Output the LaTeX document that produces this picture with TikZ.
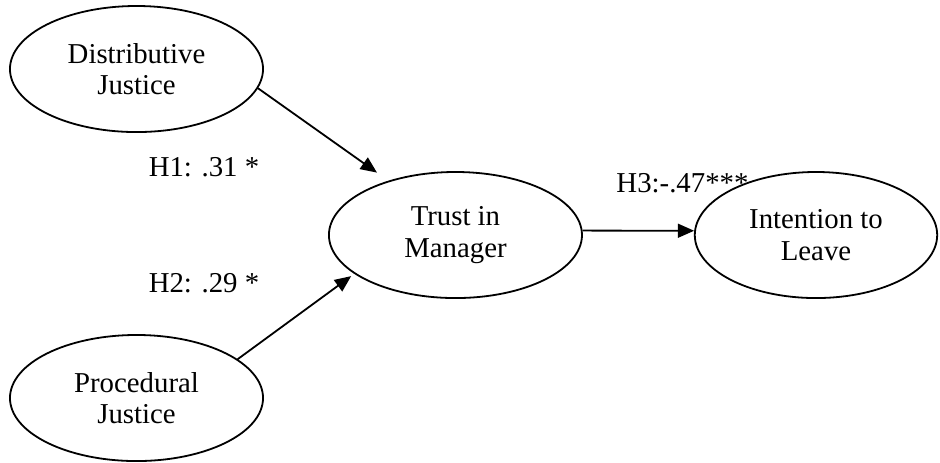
\documentclass[tikz,border=0pt]{standalone}
\usepackage{fontspec}
\setmainfont{Liberation Serif}
\usetikzlibrary{shapes.geometric,arrows.meta}
\tikzset{
  construct/.style={draw,ellipse,line width=0.75pt,inner sep=0pt,align=center,
    minimum width=3.706cm,minimum height=1.846cm},
  link/.style={line width=0.75pt,-{Triangle[length=6.8pt,width=5.8pt]}},
  coef/.style={inner sep=0pt}
}
\begin{document}
\begin{tikzpicture}[font=\fontsize{12}{13}\selectfont]
  \useasboundingbox (0,0) rectangle (13.766,6.766);
  %%%%%%%%%%%%%The constructs%%%%%%%%%%%%%%%%%%%%%%
  \node[construct] (dist) at (1.999,5.755) {Distributive\\Justice};
  \node[construct] (proc) at (1.999,0.937) {Procedural\\Justice};
  \node[construct] (trust) at (6.670,3.324) {Trust in\\Manager};
  \node[construct,minimum width=3.55cm] (intent) at (11.95,3.324) {Intention to\\Leave};

  %%%%%%%%%%%%%The paths%%%%%%%%%%%%%%%%%%%%%%
  \draw[link,shorten >=5.8pt] (dist.-9.5) -- (trust.141.7);
  \draw[link,shorten >=1.6pt] (proc.21.8) -- (trust.201.1);
  \draw[link] (trust.2) -- (intent.178);

  \node[coef,anchor=base] (h1) at (2.987,4.188) {H1: .31 *};
  \node[coef,anchor=base] (h2) at (2.987,2.475) {H2: .29 *};
  \node[coef,anchor=base west] (h3) at (9.021,3.954) {H3:-.47***};
\end{tikzpicture}
\end{document}
